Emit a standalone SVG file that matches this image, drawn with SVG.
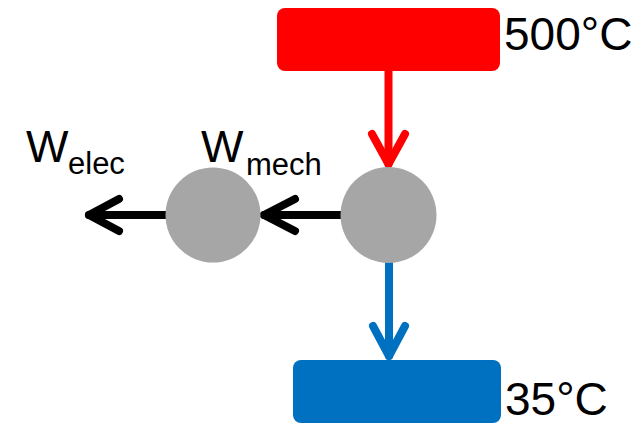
<svg xmlns="http://www.w3.org/2000/svg" width="643" height="425" viewBox="0 0 643 425">
<style>
.lbl{font-family:"Liberation Sans",Arial,sans-serif;fill:#000}
.big{font-size:46px}
.w{font-size:45px}
.sub{font-size:31px}
.ln{fill:none;stroke-width:8;stroke-linecap:round;stroke-linejoin:round}
.node{fill:#A6A6A6}
</style>
<rect width="643" height="425" fill="#fff"/>
<g id="connectors">
<g id="hot-to-engine" stroke="#FF0000" class="ln">
<path d="M388.5,71 V164"/>
<path d="M372,134 L388.5,164 L405,134"/>
</g>
<g id="engine-to-cold" stroke="#0070C0" class="ln">
<path d="M389,263 V356"/>
<path d="M373,326 L389,356 L405,326"/>
</g>
<g id="engine-to-generator" stroke="#000" class="ln">
<path d="M341,215 H264"/>
<path d="M295,199 L264,215 L295,231"/>
</g>
<g id="generator-out" stroke="#000" class="ln">
<path d="M166,215 H89"/>
<path d="M119,199 L89,215 L119,231"/>
</g>
</g>
<g id="hot">
<rect x="277" y="8" width="223" height="63" rx="8" fill="#FF0000"/>
<text class="lbl big" x="504" y="50">500°C</text>
</g>
<g id="cold">
<rect x="293" y="360" width="208" height="63" rx="8" fill="#0070C0"/>
<text class="lbl big" x="505" y="415">35°C</text>
</g>
<g id="engine">
<circle class="node" cx="388.5" cy="215" r="48"/>
</g>
<g id="generator">
<circle class="node" cx="213" cy="215" r="47.5"/>
</g>
<g id="wmech">
<text class="lbl"><tspan class="w" x="201" y="162">W</tspan><tspan class="sub" x="246" y="175">mech</tspan></text>
</g>
<g id="welec">
<text class="lbl"><tspan class="w" x="26" y="162">W</tspan><tspan class="sub" x="68" y="174">elec</tspan></text>
</g>
</svg>
